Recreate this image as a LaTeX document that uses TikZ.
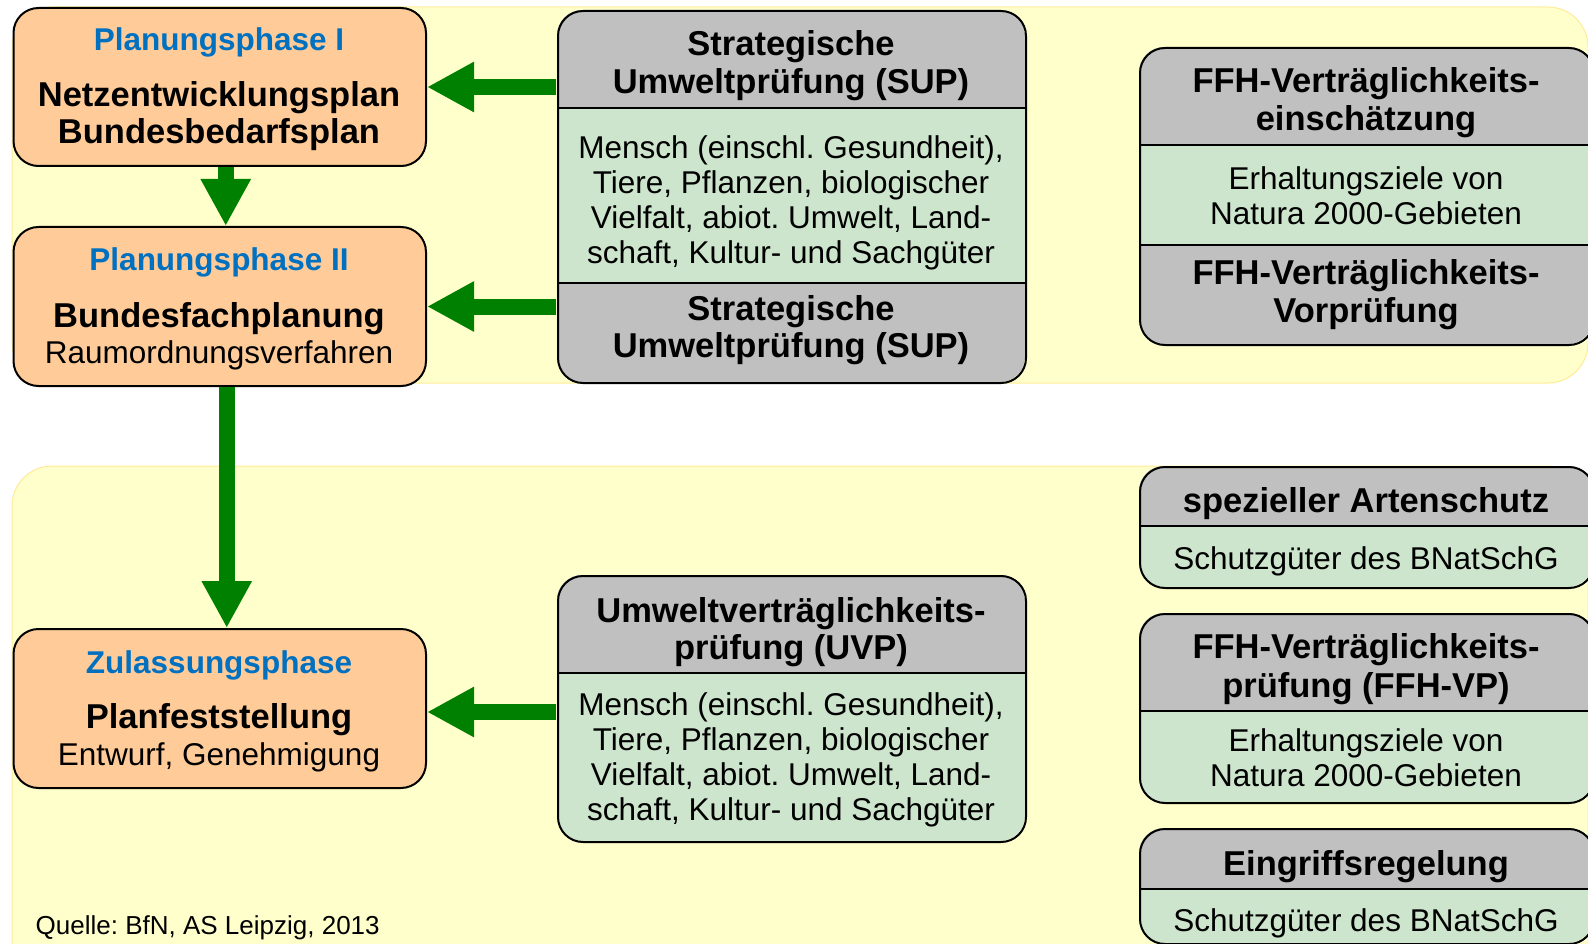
\documentclass[tikz,border=0pt]{standalone}
\usepackage{fontspec}
\setmainfont{Liberation Sans}
\usetikzlibrary{arrows.meta}
\frenchspacing
\definecolor{panelyellow}{HTML}{FFFFCC}
\definecolor{panelborder}{HTML}{FFEB99}
\definecolor{peach}{HTML}{FFCC99}
\definecolor{boxgray}{HTML}{C0C0C0}
\definecolor{boxgreen}{HTML}{CCE5CC}
\definecolor{arrowgreen}{HTML}{008000}
\definecolor{phaseblue}{HTML}{0070C0}
\newcommand{\myhd}{\fontsize{34.5}{37.5}\selectfont\bfseries}
\newcommand{\mybd}{\fontsize{31.5}{34.8}\selectfont}
\newcommand{\myph}{\fontsize{31.5}{34}\selectfont\bfseries}
\newcommand{\mysrc}{\fontsize{26}{30}\selectfont}
\begin{document}
\frenchspacing
\begin{tikzpicture}[x=1pt,y=-1pt,
  panel/.style={fill=panelyellow,draw=panelborder,line width=1pt,rounded corners=40pt},
  phasebox/.style={draw=black,line width=2pt,fill=peach,rounded corners=25pt,inner sep=0pt,anchor=north west},
  frame/.style={draw=black,line width=2pt,rounded corners=25pt,inner sep=0pt,anchor=north west},
  divider/.style={draw=black,line width=2pt},
  bigarrow/.style={draw=arrowgreen,line width=16pt,-{Triangle[length=47pt,width=47pt]}},
  txt/.style={inner sep=0pt,align=center,text=black},
  phtxt/.style={inner sep=0pt,text=phaseblue,font=\myph,anchor=base}
]
\useasboundingbox (0,0) rectangle (1588,944);
\clip (0,0) rectangle (1588,944);

% panels
\path[panel] (12,7) rectangle (1588,383);
\path[panel] (12,466) rectangle (1588,990);

% phase boxes
\node[phasebox,minimum width=412.5pt,minimum height=158pt] (pI) at (12.5,7) {};
\node[phasebox,minimum width=412.5pt,minimum height=159pt] (pII) at (12.5,226) {};
\node[phasebox,minimum width=412.5pt,minimum height=159pt] (zul) at (12.5,628) {};

\node[phtxt] (pIa) at (219,51) {Planungsphase I};
\node[txt,font=\myhd] (pIb) at (219,116) {Netzentwicklungsplan\\Bundesbedarfsplan};
\node[phtxt] (pIIa) at (219,271) {Planungsphase II};
\node[txt,font=\myhd,anchor=base] (pIIb) at (219,327) {Bundesfachplanung};
\node[txt,font=\mybd,anchor=base] (pIIc) at (219,363) {Raumordnungsverfahren};
\node[phtxt] (zulA) at (219,673) {Zulassungsphase};
\node[txt,font=\myhd,anchor=base] (zulB) at (219,728) {Planfeststellung};
\node[txt,font=\mybd,anchor=base] (zulC) at (219,765) {Entwurf, Genehmigung};

% SUP box
\begin{scope}
\clip[rounded corners=25pt] (557,10) rectangle (1025,382);
\fill[boxgray] (557,10) rectangle (1025,382);
\fill[boxgreen] (557,108) rectangle (1025,283);
\end{scope}
\draw[divider] (557,108) -- (1025,108);
\draw[divider] (557,283) -- (1025,283);
\node[frame,minimum width=468pt,minimum height=372pt] (sup) at (557,10) {};
\node[txt,font=\myhd] (supA) at (791,65.5) {Strategische\\Umweltprüfung (SUP)};
\node[txt,font=\mybd] (supB) at (791,203) {Mensch (einschl. Gesundheit),\\Tiere, Pflanzen, biologischer\\Vielfalt, abiot. Umwelt, Land-\\schaft, Kultur- und Sachgüter};
\node[txt,font=\myhd] (supC) at (791,330) {Strategische\\Umweltprüfung (SUP)};

% UVP box
\begin{scope}
\clip[rounded corners=25pt] (557,575) rectangle (1025,841);
\fill[boxgreen] (557,575) rectangle (1025,841);
\fill[boxgray] (557,575) rectangle (1025,673);
\end{scope}
\draw[divider] (557,673) -- (1025,673);
\node[frame,minimum width=468pt,minimum height=266pt] (uvp) at (557,575) {};
\node[txt,font=\myhd] (uvpA) at (791,632) {Umweltverträglichkeits-\\prüfung (UVP)};
\node[txt,font=\mybd] (uvpB) at (791,760) {Mensch (einschl. Gesundheit),\\Tiere, Pflanzen, biologischer\\Vielfalt, abiot. Umwelt, Land-\\schaft, Kultur- und Sachgüter};

% FFH top box
\begin{scope}
\clip[rounded corners=25pt] (1139,47) rectangle (1593,344);
\fill[boxgray] (1139,47) rectangle (1593,344);
\fill[boxgreen] (1139,145) rectangle (1593,245);
\end{scope}
\draw[divider] (1139,145) -- (1593,145);
\draw[divider] (1139,245) -- (1593,245);
\node[frame,minimum width=454pt,minimum height=297pt] (ffhT) at (1139,47) {};
\node[txt,font=\myhd] (ffhTa) at (1366,102.5) {FFH-Verträglichkeits-\\einschätzung};
\node[txt,font=\mybd] (ffhTb) at (1366,195.5) {Erhaltungsziele von\\Natura 2000-Gebieten};
\node[txt,font=\myhd] (ffhTc) at (1366,294.5) {FFH-Verträglichkeits-\\Vorprüfung};

% Artenschutz box
\begin{scope}
\clip[rounded corners=25pt] (1139,466) rectangle (1593,587);
\fill[boxgreen] (1139,466) rectangle (1593,587);
\fill[boxgray] (1139,466) rectangle (1593,526);
\end{scope}
\draw[divider] (1139,526) -- (1593,526);
\node[frame,minimum width=454pt,minimum height=121pt] (art) at (1139,466) {};
\node[txt,font=\myhd,anchor=base] (artA) at (1366,512.5) {spezieller Artenschutz};
\node[txt,font=\mybd,anchor=base] (artB) at (1366,569.5) {Schutzgüter des BNatSchG};

% FFH-VP box
\begin{scope}
\clip[rounded corners=25pt] (1139,613) rectangle (1593,802);
\fill[boxgreen] (1139,613) rectangle (1593,802);
\fill[boxgray] (1139,613) rectangle (1593,711);
\end{scope}
\draw[divider] (1139,711) -- (1593,711);
\node[frame,minimum width=454pt,minimum height=189pt] (ffhVP) at (1139,613) {};
\node[txt,font=\fontsize{34.5}{39.5}\selectfont\bfseries] (ffhVPa) at (1366,669) {FFH-Verträglichkeits-\\prüfung (FFH-VP)};
\node[txt,font=\mybd] (ffhVPb) at (1366,757.5) {Erhaltungsziele von\\Natura 2000-Gebieten};

% Eingriffsregelung box
\begin{scope}
\clip[rounded corners=25pt] (1139,828) rectangle (1593,943);
\fill[boxgreen] (1139,828) rectangle (1593,943);
\fill[boxgray] (1139,828) rectangle (1593,889);
\end{scope}
\draw[divider] (1139,889) -- (1593,889);
\node[frame,minimum width=454pt,minimum height=115pt] (eing) at (1139,828) {};
\node[txt,font=\myhd,anchor=base] (eingA) at (1366,875.5) {Eingriffsregelung};
\node[txt,font=\mybd,anchor=base] (eingB) at (1366,931.5) {Schutzgüter des BNatSchG};

% arrows
\draw[bigarrow] ([xshift=-1pt]sup.west |- pI.east) -- (pI.east);
\draw[bigarrow] ([xshift=-1pt]sup.west |- pII.east) -- (pII.east);
\draw[bigarrow] ([xshift=-1pt,yshift=-3.5pt]uvp.west |- zul.east) -- ([yshift=-3.5pt]zul.east);
\draw[bigarrow] ([xshift=6pt]pI.south) -- ([xshift=6pt]pII.north);
\draw[bigarrow] ([xshift=7pt]pII.south) -- ([xshift=7pt]zul.north);

% source
\node[txt,font=\mysrc,anchor=base west] (src) at (35.5,934) {Quelle: BfN, AS Leipzig, 2013};
\end{tikzpicture}
\end{document}
